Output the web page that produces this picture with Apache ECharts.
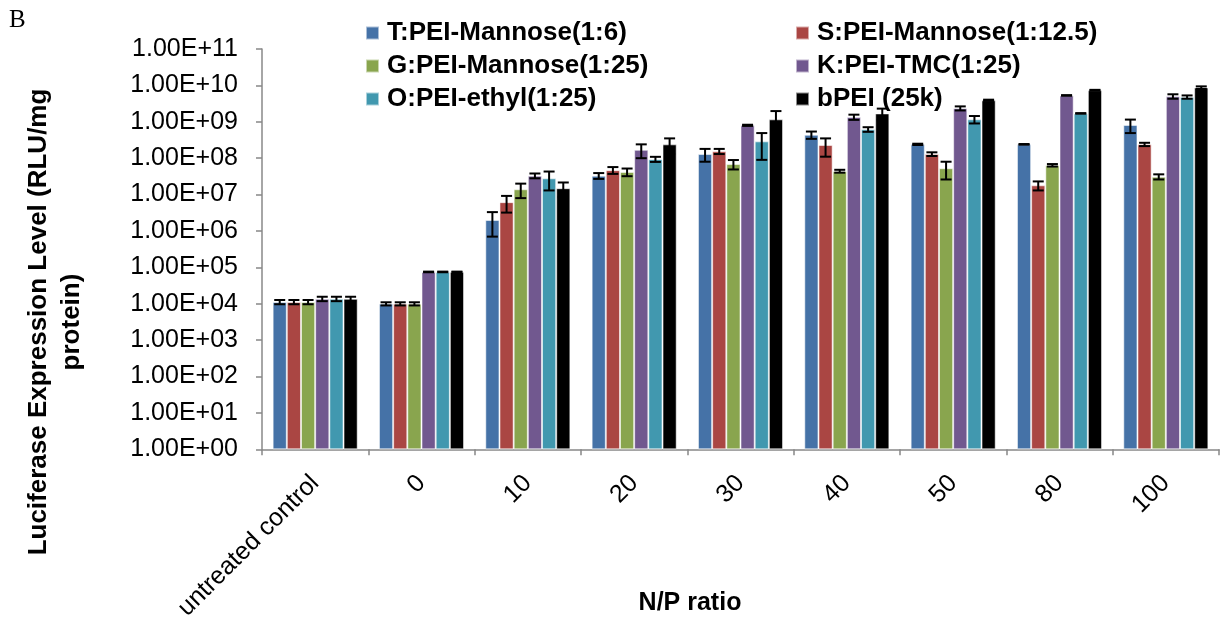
<!DOCTYPE html>
<html>
<head>
<meta charset="utf-8">
<script src="https://cdn.jsdelivr.net/npm/echarts@6/dist/echarts.min.js"></script>
<style>
  html, body { margin: 0; padding: 0; background: #fff; }
  #chart { width: 1221px; height: 623px; }
</style>
</head>
<body>
<div id="chart"></div>
<script>
// N/P ratio groups
const categories = ['untreated control', '0', '10', '20', '30', '40', '50', '80', '100'];

const seriesNames = [
  'T:PEI-Mannose(1:6)',
  'S:PEI-Mannose(1:12.5)',
  'G:PEI-Mannose(1:25)',
  'K:PEI-TMC(1:25)',
  'O:PEI-ethyl(1:25)',
  'bPEI (25k)'
];

// Mean luciferase expression (RLU/mg protein)
const meanT    = [1.12e4, 1.0e4, 2.0e6, 3.3e7, 1.3e8, 4.4e8, 2.4e8, 2.4e8, 8.2e8];
const meanS    = [1.12e4, 1.0e4, 6.2e6, 4.7e7, 1.55e8, 2.3e8, 1.3e8, 1.8e7, 2.4e8];
const meanG    = [1.12e4, 1.0e4, 1.4e7, 4.2e7, 6.9e7, 4.4e7, 5.3e7, 6.4e7, 3.1e7];
const meanK    = [1.37e4, 7.5e4, 3.3e7, 1.7e8, 8.0e8, 1.35e9, 2.35e9, 5.3e9, 5.0e9];
const meanO    = [1.37e4, 7.5e4, 2.8e7, 9.4e7, 2.9e8, 6.2e8, 1.17e9, 1.7e9, 4.8e9];
const meanBPEI = [1.37e4, 7.5e4, 1.5e7, 2.4e8, 1.17e9, 1.7e9, 3.9e9, 7.4e9, 8.7e9];

// Standard deviations
const sdT    = [1.5e3, 1.0e3, 1.3e6, 6e6, 5e7, 1e8, 1e7, 5e6, 3.3e8];
const sdS    = [1.5e3, 1.0e3, 3e6, 1e7, 2.5e7, 1.2e8, 1.5e7, 5e6, 2.5e7];
const sdG    = [1.5e3, 1.0e3, 6e6, 1e7, 2e7, 4e6, 2.7e7, 5e6, 5e6];
const sdK    = [1.9e3, 1.5e3, 5e6, 7e7, 3e7, 2.2e8, 3e8, 1e8, 7e8];
const sdO    = [1.9e3, 1.5e3, 1.5e7, 1.5e7, 2e8, 9e7, 2.7e8, 3e7, 5e8];
const sdBPEI = [1.9e3, 1.5e3, 6.5e6, 1.1e8, 8e8, 6e8, 1.5e8, 1.5e8, 7e8];

const means = [meanT, meanS, meanG, meanK, meanO, meanBPEI];
const sds = [sdT, sdS, sdG, sdK, sdO, sdBPEI];
const colors = ['#4572A7', '#AA4643', '#89A54E', '#71588F', '#4198AF', '#000000'];

const FONT = '"Liberation Sans", Arial, sans-serif';
const CAT_GAP = 0.2;   // fraction of each category left empty
const nSeries = means.length;

function sciLabel(v) {
  const parts = Number(v).toExponential(2).split('e');
  const exp = parseInt(parts[1], 10);
  const sign = exp < 0 ? '-' : '+';
  return parts[0] + 'E' + sign + String(Math.abs(exp)).padStart(2, '0');
}

const barSeries = means.map((vals, i) => ({
  name: seriesNames[i],
  type: 'bar',
  data: vals,
  barGap: '0%',
  barCategoryGap: (CAT_GAP * 100) + '%',
  itemStyle: { color: colors[i], borderColor: 'rgba(255,255,255,0.55)', borderWidth: 1 },
  emphasis: { disabled: true },
  z: 2
}));

// Error bars drawn over each bar, offset to that bar's slot in the group
const errorSeries = means.map((vals, i) => ({
  type: 'custom',
  name: seriesNames[i] + ' error',
  data: vals.map((m, j) => [j, m - sds[i][j], m + sds[i][j]]),
  z: 5,
  silent: true,
  renderItem: function (params, api) {
    const idx = api.value(0);
    const band = api.size([1, 0])[0];
    const barW = band * (1 - CAT_GAP) / nSeries;
    const offset = (i - (nSeries - 1) / 2) * barW;
    const lo = api.coord([idx, api.value(1)]);
    const hi = api.coord([idx, api.value(2)]);
    const x = lo[0] + offset;
    const cap = 5.5;
    const style = { stroke: '#000', lineWidth: 2, fill: null };
    return {
      type: 'group',
      children: [
        { type: 'line', shape: { x1: x, y1: hi[1], x2: x, y2: lo[1] }, style: style },
        { type: 'line', shape: { x1: x - cap, y1: hi[1], x2: x + cap, y2: hi[1] }, style: style },
        { type: 'line', shape: { x1: x - cap, y1: lo[1], x2: x + cap, y2: lo[1] }, style: style }
      ]
    };
  }
}));

const legendText = { fontFamily: FONT, fontWeight: 'bold', fontSize: 26, color: '#000', lineHeight: 30, padding: [0, 0, 0, 3] };

const chart = echarts.init(document.getElementById('chart'), null, { renderer: 'canvas' });
chart.setOption({
  animation: false,
  backgroundColor: '#fff',
  grid: { left: 262, right: 2, top: 49, bottom: 172, containLabel: false },
  legend: [
    {
      data: [seriesNames[0], seriesNames[2], seriesNames[4]],
      orient: 'vertical', left: 360, top: 13,
      icon: 'rect', itemWidth: 13, itemHeight: 13, itemGap: 3,
      textStyle: legendText, selectedMode: false
    },
    {
      data: [seriesNames[1], seriesNames[3], seriesNames[5]],
      orient: 'vertical', left: 790, top: 13,
      icon: 'rect', itemWidth: 13, itemHeight: 13, itemGap: 3,
      textStyle: legendText, selectedMode: false
    }
  ],
  xAxis: {
    type: 'category',
    data: categories,
    axisLine: { lineStyle: { color: '#888', width: 1.5 } },
    axisTick: { show: true, length: 6, lineStyle: { color: '#888', width: 1.5 } },
    axisLabel: {
      rotate: 45, interval: 0, margin: 30,
      verticalAlign: 'middle',
      fontFamily: FONT, fontSize: 25, color: '#000'
    }
  },
  yAxis: {
    type: 'log',
    logBase: 10,
    min: 1,
    max: 1e11,
    interval: 1,
    splitNumber: 11,
    axisLine: { show: true, lineStyle: { color: '#888', width: 1.5 } },
    axisTick: { show: true, length: 6, lineStyle: { color: '#888', width: 1.5 } },
    splitLine: { show: false },
    minorTick: { show: false },
    axisLabel: {
      margin: 24,
      fontFamily: FONT, fontSize: 25, color: '#000',
      formatter: sciLabel
    }
  },
  graphic: [
    {
      type: 'text', left: 9, top: 8,
      style: { text: 'B', fontFamily: '"Liberation Serif", "Times New Roman", serif', fontSize: 25, fill: '#000' }
    },
    {
      type: 'text', x: 55, y: 322, rotation: Math.PI / 2,
      style: {
        text: 'Luciferase Expression Level (RLU/mg\nprotein)',
        fontFamily: FONT, fontWeight: 'bold', fontSize: 26, lineHeight: 33,
        fill: '#000', align: 'center', verticalAlign: 'middle'
      }
    },
    {
      type: 'text', x: 690, y: 603,
      style: {
        text: 'N/P ratio',
        fontFamily: FONT, fontWeight: 'bold', fontSize: 25,
        fill: '#000', align: 'center', verticalAlign: 'middle'
      }
    }
  ],
  series: barSeries.concat(errorSeries)
});
</script>
</body>
</html>
